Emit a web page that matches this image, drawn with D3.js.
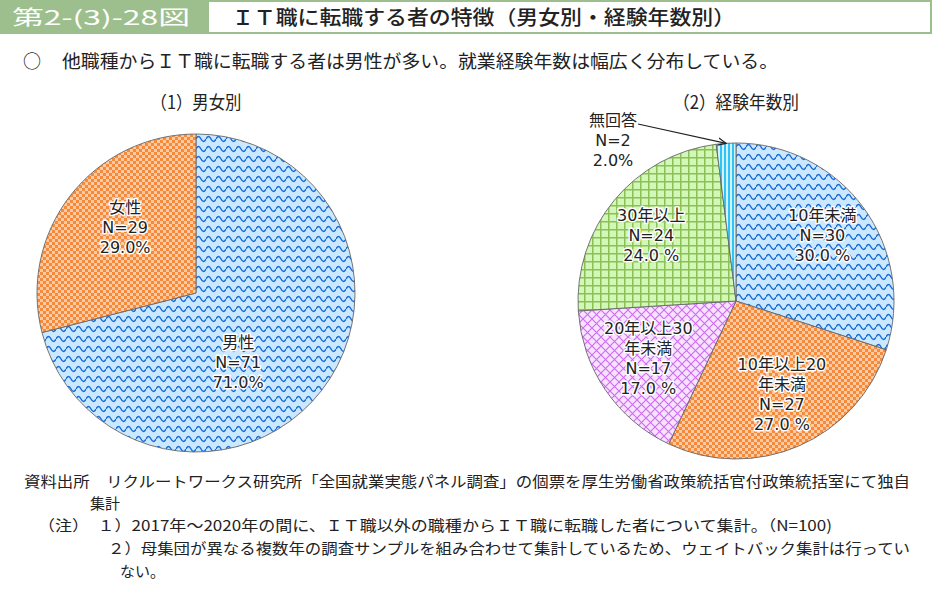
<!DOCTYPE html>
<html><head><meta charset="utf-8">
<script src="https://cdn.jsdelivr.net/npm/d3@7/dist/d3.min.js"></script>
<style>
body{margin:0;background:#fff;}
svg{display:block;}
</style></head>
<body>
<svg id="c" width="933" height="595"></svg>
<script>
// ---- data ----
const figNo = "第2-(3)-28図";
const figTitle = "ＩＴ職に転職する者の特徴（男女別・経験年数別）";
const subtitle = "他職種からＩＴ職に転職する者は男性が多い。就業経験年数は幅広く分布している。";
const pie1Title = "（1）男女別";
const pie2Title = "（2）経験年数別";

const genderCats = ["男性", "女性"];
const genderN = [71, 29];
const genderLabelLines = [["男性"], ["女性"]];

const expCats = ["10年未満", "10年以上20年未満", "20年以上30年未満", "30年以上", "無回答"];
const expN = [30, 27, 17, 24, 2];
const expLabelLines = [["10年未満"], ["10年以上20", "年未満"], ["20年以上30", "年未満"], ["30年以上"], ["無回答"]];

const notes = [
  "資料出所　リクルートワークス研究所「全国就業実態パネル調査」の個票を厚生労働省政策統括官付政策統括室にて独自",
  "集計",
  "（注）　１）2017年～2020年の間に、ＩＴ職以外の職種からＩＴ職に転職した者について集計。（N=100)",
  "２）母集団が異なる複数年の調査サンプルを組み合わせて集計しているため、ウェイトバック集計は行ってい",
  "ない。"
];

// ---- styles ----
const svg = d3.select("#c");
const CJK = "'Noto Sans CJK JP', sans-serif";
const LBL = "'DejaVu Sans', 'Noto Sans CJK JP', sans-serif";
const defs = svg.append("defs");

function pat(id, w, h, bg, draw) {
  const p = defs.append("pattern").attr("id", id).attr("patternUnits", "userSpaceOnUse")
    .attr("width", w).attr("height", h);
  p.append("rect").attr("width", w).attr("height", h).attr("fill", bg);
  draw(p);
}
// blue waves
pat("pBlue", 10, 10, "#cae8ff", p => {
  p.append("path").attr("d", "M0,6 Q2.5,1 5,6 T10,6").attr("fill", "none")
   .attr("stroke", "#1668d4").attr("stroke-width", 1.4);
});
// orange checker
pat("pOrange", 6, 6, "#f58a3a", p => {
  p.append("rect").attr("x", 0).attr("y", 0).attr("width", 3).attr("height", 3).attr("fill", "#fccaa4");
  p.append("rect").attr("x", 3).attr("y", 3).attr("width", 3).attr("height", 3).attr("fill", "#fccaa4");
});
// purple lattice
pat("pPurple", 9, 9, "#f8e2ff", p => {
  p.append("path").attr("d", "M0,0 L9,9 M9,0 L0,9").attr("stroke", "#cc6cf0").attr("stroke-width", 1.1);
});
// green grid
pat("pGreen", 8, 8, "#d2f8b8", p => {
  p.append("path").attr("d", "M0.75,0 V8 M0,0.75 H8").attr("stroke", "#8cbf55").attr("stroke-width", 1.5);
});
// cyan stripes
pat("pCyan", 4, 4, "#d2f2ff", p => {
  p.append("rect").attr("x", 0).attr("width", 2).attr("height", 4).attr("fill", "#2ec4f6");
});
const arrowM = defs.append("marker").attr("id", "arr").attr("viewBox", "0 0 10 10")
  .attr("refX", 9).attr("refY", 5).attr("markerWidth", 9).attr("markerHeight", 9).attr("orient", "auto")
  .attr("markerUnits", "userSpaceOnUse");
arrowM.append("path").attr("d", "M0,1 L9,5 L0,9").attr("fill", "none").attr("stroke", "#222").attr("stroke-width", 1.4);

// ---- header ----
svg.append("rect").attr("x", 0).attr("y", 0).attr("width", 208).attr("height", 34).attr("fill", "#9dbf8d");
svg.append("rect").attr("x", 208).attr("y", 1).attr("width", 723).attr("height", 32)
  .attr("fill", "#fff").attr("stroke", "#9dbf8d").attr("stroke-width", 2);
svg.append("text").attr("x", 12).attr("y", 25).attr("fill", "#fff").attr("font-family", CJK)
  .attr("font-size", 20).attr("textLength", 178).attr("lengthAdjust", "spacingAndGlyphs").text(figNo);
svg.append("text").attr("x", 232).attr("y", 25).attr("fill", "#222").attr("font-family", CJK)
  .attr("font-size", 20).attr("font-weight", 500).attr("textLength", 503).attr("lengthAdjust", "spacingAndGlyphs").text(figTitle);

svg.append("text").attr("x", 23).attr("y", 68).attr("fill", "#222").attr("font-family", CJK)
  .attr("font-size", 18).text("○");
svg.append("text").attr("x", 62).attr("y", 68).attr("fill", "#222").attr("font-family", CJK)
  .attr("font-size", 18).attr("textLength", 716).attr("lengthAdjust", "spacingAndGlyphs").text(subtitle);

// ---- pies ----
function drawPie(cx, cy, r, cats, vals, fills, title, titleW, lines, lblPos) {
  const total = d3.sum(vals);
  const pie = d3.pie().sort(null).value(d => d.v);
  const data = pie(cats.map((c, i) => ({ c, v: vals[i], i })));
  const arc = d3.arc().innerRadius(0).outerRadius(r);
  const g = svg.append("g").attr("transform", `translate(${cx},${cy})`);
  g.selectAll("path.s").data(data).join("path").attr("class", "s")
    .attr("d", arc).attr("fill", d => `url(#${fills[d.index]})`)
    .attr("stroke", "#666").attr("stroke-width", 0.9);
  svg.append("text").attr("x", cx).attr("y", 109).attr("text-anchor", "middle")
    .attr("font-family", CJK).attr("font-size", 18).attr("fill", "#222")
    .attr("textLength", titleW).attr("lengthAdjust", "spacingAndGlyphs").text(title);
  data.forEach((d, k) => {
    const lp = lblPos[k];
    let x, y;
    if (lp.abs) { x = cx + lp.dx; y = cy + lp.dy; }
    else {
      const la = d3.arc().innerRadius(lp.rr).outerRadius(lp.rr);
      const c = la.centroid(d);
      x = cx + c[0] + lp.dx; y = cy + c[1] + lp.dy;
    }
    const pct = (d.data.v / total * 100).toFixed(1) + (lp.sp ? " %" : "%");
    const ls = lines[k].concat(["N=" + d.data.v, pct]);
    const t = svg.append("text").attr("text-anchor", "middle").attr("font-family", LBL)
      .attr("font-size", 16).attr("fill", "#222")
      .attr("stroke", "#fff").attr("stroke-width", 3).attr("stroke-linejoin", "round")
      .attr("paint-order", "stroke");
    const lh = 20;
    const y0 = y - (ls.length - 1) * lh / 2 + 6;
    ls.forEach((s, j) => t.append("tspan").attr("x", x).attr("y", y0 + j * lh).text(s));
    if (lp.arrow) {
      const ea = (d.startAngle + d.endAngle) / 2;
      const ex = cx + Math.sin(ea) * r, ey = cy - Math.cos(ea) * r;
      svg.append("line").attr("x1", x + 25).attr("y1", y0 - 2).attr("x2", ex).attr("y2", ey)
        .attr("stroke", "#222").attr("stroke-width", 1.2).attr("marker-end", "url(#arr)");
    }
  });
}

drawPie(196, 293, 159, genderCats, genderN, ["pBlue", "pOrange"], pie1Title, 91, genderLabelLines,
  [{ rr: 80, dx: -21, dy: 20 }, { rr: 96, dx: 5, dy: -7 }]);

drawPie(736, 301, 158, expCats, expN, ["pBlue", "pOrange", "pPurple", "pGreen", "pCyan"], pie2Title, 126, expLabelLines,
  [{ rr: 108, dx: -1, dy: -3, sp: true }, { rr: 103, dx: 5, dy: -2, sp: true }, { rr: 106, dx: 0, dy: -3, sp: true },
   { rr: 110, dx: 0, dy: 4, sp: true }, { abs: true, dx: -123, dy: -161, arrow: true }]);

// ---- notes ----
const noteSpec = [
  { x: 24, y: 487, w: 886 },
  { x: 90, y: 509, w: 30 },
  { x: 38, y: 531, w: 794 },
  { x: 108, y: 554, w: 802 },
  { x: 120, y: 577, w: 45 }
];
notes.forEach((s, i) => {
  svg.append("text").attr("x", noteSpec[i].x).attr("y", noteSpec[i].y).attr("font-family", CJK)
    .attr("font-size", 15).attr("fill", "#222").attr("textLength", noteSpec[i].w)
    .attr("lengthAdjust", "spacingAndGlyphs").text(s);
});
</script>
</body></html>
